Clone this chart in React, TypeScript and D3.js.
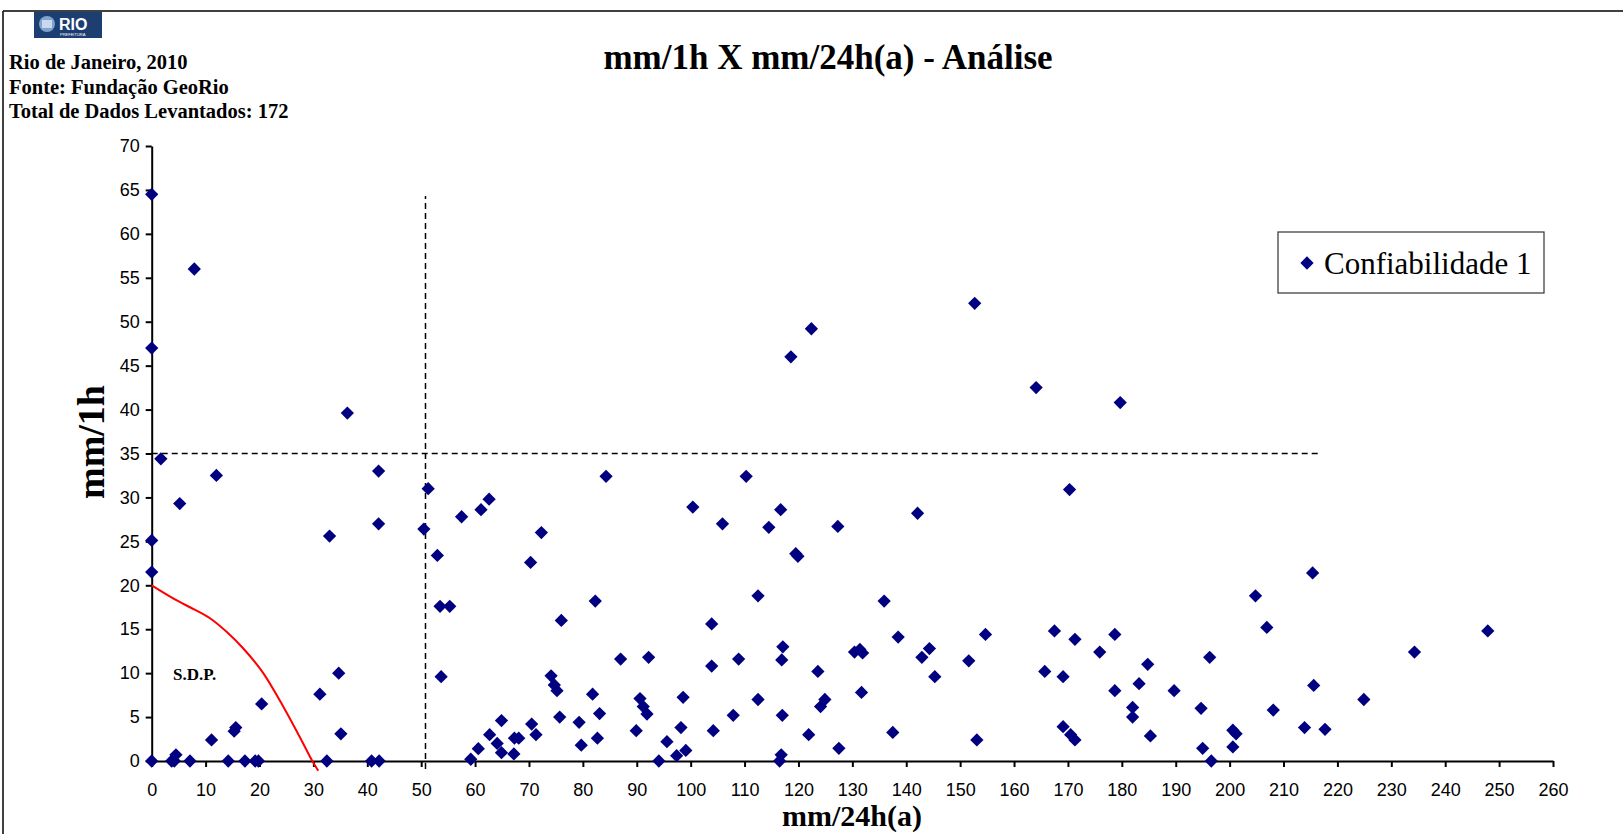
import React, { useEffect, useRef } from "react";
import * as d3 from "d3";

// mm/24h(a) e mm/1h de cada registro (mesma ordem nos dois arrays)
const chuva24h = [
  0, 7.9, 0, 36.3, 1.7, 12, 5.2, 42.1, 42.1, 0, 0, 33, 51.3, 50.5, 53.0, 53.5, 55.3, 53.7, 34.7, 31.2,
  20.4, 35.1, 11.1, 15.3, 15.6, 0, 3.7, 4.5, 4.2, 7.1, 14.2, 17.3, 19.2, 19.8, 32.5, 40.8, 42.2,
  57.5, 61.1, 62.6, 72.3, 70.3, 84.3, 82.3, 76.0, 87.0, 92.2, 74.1, 74.7, 75.2, 81.8, 90.6, 91.2, 91.9,
  98.6, 83.1, 75.7, 79.3, 70.5, 71.3, 64.9, 62.7, 67.3, 68.1, 64.1, 64.9, 67.2, 60.6, 59.2, 89.9, 98.2,
  95.6, 79.7, 82.7, 94.1, 97.4, 99.1, 100.4, 105.9, 110.3, 103.9, 103.9, 104.2, 108.9, 107.9, 112.5,
  112.5, 114.5, 116.7, 119.5, 119.9, 118.6, 122.4, 117.1, 116.9, 117.0, 116.8, 116.5, 123.6, 124.9,
  124.1, 121.9, 127.5, 127.3, 130.4, 131.4, 131.9, 131.7, 135.9, 138.5, 137.5, 142.1, 144.3, 142.9,
  145.3, 151.6, 152.7, 154.7, 153.1, 164.1, 167.5, 165.7, 169.1, 169.1, 170.5, 171.3, 170.3, 171.3,
  179.7, 178.7, 175.9, 184.8, 183.2, 178.7, 182.0, 182.0, 185.3, 189.7, 194.7, 196.3, 195.0, 196.6,
  200.6, 201.2, 200.6, 204.8, 206.9, 208.1, 215.4, 215.6, 213.9, 217.7, 224.9, 234.3, 247.9,
];
const chuva1h = [
  64.5, 56, 47, 39.6, 34.4, 32.5, 29.3, 33, 27, 25.1, 21.5, 25.6, 31, 26.4, 23.4, 17.6, 17.6, 9.6, 10, 7.6,
  6.5, 3.1, 2.4, 3.4, 3.8, 0, 0, 0.7, 0, 0, 0, 0, 0, 0, 0, 0, 0,
  27.8, 28.6, 29.8, 26.0, 22.6, 32.4, 18.2, 16.0, 11.6, 11.8, 9.7, 8.65, 8.0, 7.6, 7.1, 6.2, 5.35,
  7.25, 5.4, 5.0, 4.4, 4.2, 3.0, 4.6, 3.0, 2.6, 2.6, 2.0, 0.95, 0.8, 1.4, 0.2, 3.45, 3.8,
  2.2, 1.8, 2.6, 0, 0.6, 1.2, 28.9, 27.0, 32.4, 15.6, 10.8, 3.45, 11.6, 5.2, 18.8,
  7.0, 26.6, 28.6, 23.6, 23.3, 46.0, 49.2, 13.0, 11.5, 5.2, 0.7, 0, 10.2, 7.0,
  6.2, 3.0, 1.45, 26.7, 12.4, 12.7, 12.3, 7.8, 18.2, 14.1, 3.25, 28.2, 12.8, 11.8,
  9.6, 11.4, 52.1, 14.4, 2.4, 42.5, 14.8, 10.2, 9.6, 3.9, 3.0, 2.4, 30.9, 13.85,
  40.8, 14.4, 12.4, 11.0, 8.8, 8.0, 6.1, 5.0, 2.85, 8.0, 6.0, 11.8, 1.45, 0,
  3.5, 3.1, 1.6, 18.8, 15.2, 5.8, 21.4, 8.6, 3.8, 3.6, 7.0, 12.4, 14.8,
];

// curva S.D.P. (vermelha)
const curvaX = [0, 5.2, 7.1, 11.4, 13.9, 17, 20.7, 24.4, 28.1, 29.8, 30.9];
const curvaY = [20, 18.1, 17.5, 16.0, 14.7, 12.8, 10, 6.2, 2.0, 0, -1.1];

const limite1h = 35;
const limite24h = 50.8;
const fimLimite1h = 217;
const fimLimite24h = 64.3;

const ticksX = d3.range(0, 261, 10);
const ticksY = d3.range(0, 71, 5);

const infoLinhas = ["Rio de Janeiro, 2010", "Fonte: Fundação GeoRio", "Total de Dados Levantados: 172"];

const App = () => {
  const ref = useRef<SVGSVGElement | null>(null);

  useEffect(() => {
    drawChart();
  }, []);

  const drawChart = () => {
    const svg = d3.select(ref.current);
    svg.selectAll("*").remove();

    const serif = "'Liberation Serif', 'Times New Roman', serif";
    const sans = "'Liberation Sans', Arial, sans-serif";
    const navy = "#000080";

    // moldura
    svg.append("line").attr("x1", 3).attr("x2", 1623).attr("y1", 11).attr("y2", 11)
      .attr("stroke", "#000").attr("stroke-width", 1.5);
    svg.append("line").attr("x1", 3).attr("x2", 3).attr("y1", 11).attr("y2", 834)
      .attr("stroke", "#000").attr("stroke-width", 1.5);

    // logo
    const logo = svg.append("g").attr("transform", "translate(34,12)");
    logo.append("rect").attr("width", 68).attr("height", 26).attr("fill", "#1d3e70");
    logo.append("circle").attr("cx", 13).attr("cy", 12).attr("r", 8).attr("fill", "#7fa3cf");
    logo.append("rect").attr("x", 8).attr("y", 8).attr("width", 10).attr("height", 8).attr("fill", "#c9d8ec");
    logo.append("text").attr("x", 25).attr("y", 18).text("RIO")
      .attr("fill", "#fff").attr("font-family", sans).attr("font-weight", "bold").attr("font-size", 16);
    logo.append("text").attr("x", 26).attr("y", 23.5).text("PREFEITURA")
      .attr("fill", "#fff").attr("font-family", sans).attr("font-size", 4);

    svg.selectAll(".info")
      .data(infoLinhas)
      .enter().append("text")
      .attr("class", "info")
      .attr("x", 9)
      .attr("y", (d, i) => 69 + i * 24.5)
      .attr("font-family", serif)
      .attr("font-weight", "bold")
      .attr("font-size", 20.5)
      .text(d => d);

    svg.append("text")
      .attr("x", 828).attr("y", 69)
      .attr("text-anchor", "middle")
      .attr("font-family", serif).attr("font-weight", "bold").attr("font-size", 35)
      .text("mm/1h X mm/24h(a) - Análise");

    const x = d3.scaleLinear().domain([0, 260]).range([151.7, 1553]);
    const y = d3.scaleLinear().domain([0, 70]).range([761, 146]);

    // eixos
    const gx = svg.append("g")
      .attr("transform", `translate(0,${y(0)})`)
      .call(d3.axisBottom(x).tickValues(ticksX).tickSize(6).tickSizeOuter(0).tickPadding(16));
    const gy = svg.append("g")
      .attr("transform", `translate(${x(0)},0)`)
      .call(d3.axisLeft(y).tickValues(ticksY).tickSize(6).tickSizeOuter(0).tickPadding(6));
    [gx, gy].forEach(g => {
      g.selectAll("path, line").attr("stroke", "#000").attr("stroke-width", 2);
      g.selectAll("text").attr("font-family", sans).attr("font-size", 18).attr("fill", "#000");
    });

    svg.append("text")
      .attr("transform", `translate(104,${442}) rotate(-90)`)
      .attr("text-anchor", "middle")
      .attr("font-family", serif).attr("font-weight", "bold").attr("font-size", 38)
      .text("mm/1h");
    svg.append("text")
      .attr("x", 852).attr("y", 826)
      .attr("text-anchor", "middle")
      .attr("font-family", serif).attr("font-weight", "bold").attr("font-size", 30)
      .text("mm/24h(a)");

    // linhas de limite
    svg.append("line")
      .attr("x1", x(0)).attr("x2", x(fimLimite1h))
      .attr("y1", y(limite1h)).attr("y2", y(limite1h))
      .attr("stroke", "#000").attr("stroke-width", 1.5).attr("stroke-dasharray", "6,4");
    svg.append("line")
      .attr("x1", x(limite24h)).attr("x2", x(limite24h))
      .attr("y1", y(0) + 8).attr("y2", y(fimLimite24h))
      .attr("stroke", "#000").attr("stroke-width", 1.5).attr("stroke-dasharray", "6,4");

    // curva vermelha
    const curva = curvaX.map((v, i) => [v, curvaY[i]] as [number, number]);
    svg.append("path")
      .datum(curva)
      .attr("fill", "none")
      .attr("stroke", "#ff0000")
      .attr("stroke-width", 2)
      .attr("d", d3.line<[number, number]>().x(d => x(d[0])).y(d => y(d[1])).curve(d3.curveMonotoneX));

    svg.append("text")
      .attr("x", 173).attr("y", 680)
      .attr("font-family", serif).attr("font-weight", "bold").attr("font-size", 17)
      .text("S.D.P.");

    // pontos
    const diamond = d3.symbol().type(d3.symbolSquare).size(88);
    svg.selectAll(".dot")
      .data(chuva24h.map((v, i) => ({ a: v, b: chuva1h[i] })))
      .enter().append("path")
      .attr("class", "dot")
      .attr("d", diamond)
      .attr("transform", d => `translate(${x(d.a)},${y(d.b)}) rotate(45)`)
      .attr("fill", navy);

    // legenda
    svg.append("rect")
      .attr("x", 1278).attr("y", 232).attr("width", 266).attr("height", 61)
      .attr("fill", "#fff").attr("stroke", "#333").attr("stroke-width", 1.2);
    svg.append("path")
      .attr("d", diamond)
      .attr("transform", "translate(1307,263) rotate(45)")
      .attr("fill", navy);
    svg.append("text")
      .attr("x", 1324).attr("y", 274)
      .attr("font-family", serif).attr("font-size", 31)
      .text("Confiabilidade 1");
  };

  return (
    <div style={{ position: "absolute", left: 0, top: 0 }}>
      <svg ref={ref} width={1623} height={834} style={{ display: "block", background: "#fff" }} />
    </div>
  );
};

export default App;
